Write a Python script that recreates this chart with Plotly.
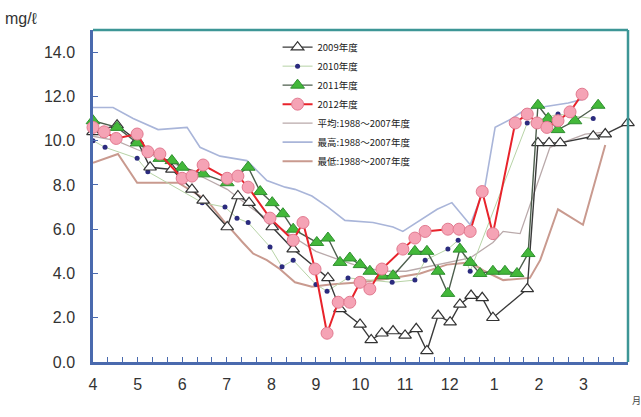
import plotly.graph_objects as go

# x positions are months elapsed since 1 April (0 = 4月, 12 = end of 3月)
month_labels = ["4", "5", "6", "7", "8", "9", "10", "11", "12", "1", "2", "3"]
month_pos = list(range(12))

# 2009年度
x_2009 = [0, 0.54, 0.99, 1.28, 1.77, 2.22, 2.47, 3.01, 3.25, 3.50, 4.02, 4.49, 5.27, 5.54,
          5.99, 6.24, 6.48, 6.73, 7.00, 7.25, 7.49, 7.74, 8.01, 8.23, 8.48, 8.73, 8.97, 9.74,
          9.98, 10.23, 10.48, 11.22, 11.49, 12.0]
y_2009 = [10.4, 10.7, 10.0, 8.8, 8.7, 7.8, 7.3, 6.1, 7.5, 7.2, 6.1, 5.1, 3.8, 2.4,
          1.7, 1.0, 1.3, 1.4, 1.2, 1.5, 0.5, 2.1, 1.8, 2.6, 3.0, 2.9, 2.0, 3.3,
          9.9, 9.9, 9.9, 10.2, 10.3, 10.8]

# 2010年度
x_2010 = [0, 0.27, 0.99, 1.23, 2.45, 2.96, 3.23, 3.48, 3.97, 4.24, 4.49, 5.00, 5.25, 5.72,
          6.71, 7.22, 7.45, 7.96, 8.19, 8.46, 9.74, 10.43, 11.22]
y_2010 = [10.0, 9.7, 9.2, 8.6, 7.2, 7.0, 6.5, 6.3, 5.2, 4.3, 4.6, 3.5, 3.2, 3.8,
          3.6, 3.7, 4.6, 5.1, 5.5, 4.1, 10.8, 11.2, 11.0]

# 2011年度
x_2011 = [0, 0.54, 0.99, 1.50, 1.77, 2.00, 2.47, 3.01, 3.48, 3.75, 4.02, 4.26, 4.49, 5.02,
          5.27, 5.54, 5.76, 5.99, 6.21, 6.48, 6.73, 7.22, 7.49, 7.74, 7.96, 8.23, 8.46, 8.68,
          8.97, 9.24, 9.51, 9.76, 9.98, 10.21, 10.43, 10.81, 11.33]
y_2011 = [10.9, 10.6, 9.9, 9.2, 9.1, 8.8, 8.5, 8.1, 8.8, 7.7, 7.2, 6.7, 6.0, 5.4,
          5.6, 4.5, 4.7, 4.4, 4.1, 3.9, 3.9, 5.0, 5.0, 4.1, 3.1, 5.1, 4.5, 4.0,
          4.1, 4.1, 4.0, 4.9, 11.6, 11.0, 10.5, 10.9, 11.6]

# 2012年度
x_2012 = [0, 0.25, 0.52, 0.99, 1.23, 1.50, 2.00, 2.22, 2.47, 3.01, 3.25, 3.48, 3.97, 4.49,
          4.71, 4.98, 5.25, 5.50, 5.76, 5.99, 6.21, 6.48, 6.95, 7.22, 7.45, 7.96, 8.21, 8.46,
          8.73, 8.97, 9.47, 9.74, 9.96, 10.18, 10.43, 10.70, 10.97]
y_2012 = [10.6, 10.4, 10.1, 10.3, 9.5, 9.4, 8.3, 8.4, 8.9, 8.3, 8.4, 7.9, 6.5, 5.5,
          6.3, 4.2, 1.3, 2.7, 2.7, 3.6, 3.3, 4.2, 5.1, 5.6, 5.9, 6.0, 6.0, 5.9,
          7.7, 5.8, 10.8, 11.2, 10.8, 10.6, 10.9, 11.3, 12.1]

# 1988～2007年度 平均 / 最高 / 最低
x_avg = [0, 0.52, 0.99, 1.50, 2.00, 2.51, 3.01, 3.52, 4.02, 4.53, 5.00, 5.54, 6.01, 6.51,
         7.02, 7.51, 8.03, 8.46, 8.97, 9.20, 9.58, 10.25, 11.04, 11.53]
y_avg = [10.2, 10.0, 9.6, 9.2, 8.8, 8.3, 7.8, 7.0, 6.3, 5.6, 5.0, 4.6, 4.3, 4.1,
         4.1, 4.3, 4.5, 4.7, 5.4, 5.9, 5.8, 9.7, 10.3, 10.4]

x_max = [0, 0.45, 0.90, 1.46, 2.11, 2.40, 2.85, 3.45, 3.90, 4.31, 4.53, 4.91, 5.27, 5.65,
         6.28, 6.73, 6.95, 7.34, 7.72, 8.05, 8.46, 8.79, 9.02, 9.40, 9.69, 10.66, 11.04]
y_max = [11.5, 11.5, 11.0, 10.5, 10.6, 9.7, 9.3, 9.1, 8.2, 7.9, 7.8, 7.5, 7.0, 6.4,
         6.3, 6.1, 5.9, 6.4, 6.9, 7.2, 6.2, 7.9, 10.6, 11.0, 11.4, 11.7, 11.9]

x_min = [0, 0.56, 0.99, 1.91, 2.56, 2.92, 3.36, 3.59, 3.90, 4.19, 4.53, 4.91, 5.32, 6.01,
         6.73, 7.34, 7.94, 8.46, 8.79, 9.20, 9.80, 10.03, 10.43, 10.99, 11.49]
y_min = [9.0, 9.4, 8.1, 8.1, 7.3, 6.4, 5.4, 4.9, 4.6, 4.2, 3.6, 3.4, 3.5, 3.6,
         3.8, 4.0, 4.4, 4.5, 4.1, 3.7, 3.8, 4.6, 6.9, 6.2, 9.8]

y_ticks = [0, 2, 4, 6, 8, 10, 12, 14]

AXIS_BLUE = "#4a6aae"
FRAME_TEAL = "#3d9696"
FONT_JP = "Noto Sans CJK JP"

fig = go.Figure()

# reference envelopes (drawn underneath the yearly series)
fig.add_trace(go.Scatter(x=x_max, y=y_max, mode="lines", name="最高:1988～2007年度",
                         line=dict(color="#a9b5d9", width=1.6), legendrank=6))
fig.add_trace(go.Scatter(x=x_avg, y=y_avg, mode="lines", name="平均:1988～2007年度",
                         line=dict(color="#b9a9aa", width=1.3), legendrank=5))
fig.add_trace(go.Scatter(x=x_min, y=y_min, mode="lines", name="最低:1988～2007年度",
                         line=dict(color="#c99a8f", width=2), legendrank=7))

# yearly series
fig.add_trace(go.Scatter(x=x_2010, y=y_2010, mode="lines+markers", name="2010年度",
                         line=dict(color="#b7d3a6", width=1),
                         marker=dict(symbol="circle", size=5, color="#2b2b7e"),
                         legendrank=2, cliponaxis=False))
fig.add_trace(go.Scatter(x=x_2009, y=y_2009, mode="lines+markers", name="2009年度",
                         line=dict(color="#3a3a3a", width=1.4),
                         marker=dict(symbol="triangle-up", size=11, color="white",
                                     line=dict(color="#333333", width=1.2)),
                         legendrank=1, cliponaxis=False))
fig.add_trace(go.Scatter(x=x_2011, y=y_2011, mode="lines+markers", name="2011年度",
                         line=dict(color="#4d5e4d", width=1.4),
                         marker=dict(symbol="triangle-up", size=12, color="#43b83a",
                                     line=dict(color="#2f8f2f", width=1)),
                         legendrank=3, cliponaxis=False))
fig.add_trace(go.Scatter(x=x_2012, y=y_2012, mode="lines+markers", name="2012年度",
                         line=dict(color="#e8232b", width=2),
                         marker=dict(symbol="circle", size=12, color="#f5a3b5",
                                     line=dict(color="#e27a90", width=1)),
                         legendrank=4, cliponaxis=False))

fig.update_layout(
    width=641, height=417,
    margin=dict(l=93, r=13, t=30, b=55),
    paper_bgcolor="white", plot_bgcolor="white",
    showlegend=True,
    legend=dict(x=0.345, y=0.992, xanchor="left", yanchor="top",
                bgcolor="rgba(255,255,255,0)", borderwidth=0,
                font=dict(family=FONT_JP, size=9.5, color="#222222"),
                tracegroupgap=0, traceorder="normal"),
    xaxis=dict(range=[0, 12], tickmode="array", tickvals=month_pos, ticktext=month_labels,
               ticks="inside", ticklen=5, tickwidth=1.3, tickcolor=AXIS_BLUE,
               minor=dict(ticks="inside", ticklen=5, tickwidth=1.3, tickcolor=AXIS_BLUE,
                          tick0=0, dtick=1 / 3, showgrid=False),
               showline=True, linecolor=AXIS_BLUE, linewidth=2.5,
               showgrid=False, zeroline=False, ticklabelstandoff=6,
               tickfont=dict(family="Liberation Sans", size=16, color="#333333")),
    yaxis=dict(range=[0, 15], tickmode="array", tickvals=y_ticks,
               ticktext=[f"{v:.1f}" for v in y_ticks],
               ticks="inside", ticklen=5, tickwidth=1.3, tickcolor=AXIS_BLUE,
               showline=True, linecolor=AXIS_BLUE, linewidth=2.5,
               showgrid=False, zeroline=False, ticklabelstandoff=12,
               tickfont=dict(family="Liberation Sans", size=16, color="#333333")),
    shapes=[
        dict(type="line", xref="paper", yref="paper", x0=0, x1=1, y0=1, y1=1,
             line=dict(color=FRAME_TEAL, width=2.5)),
        dict(type="line", xref="paper", yref="paper", x0=1, x1=1, y0=0, y1=1,
             line=dict(color=FRAME_TEAL, width=2.5)),
    ],
    annotations=[
        dict(text="mg/ℓ", xref="paper", yref="paper", x=-0.168, y=1.035,
             xanchor="left", yanchor="middle", showarrow=False,
             font=dict(family="Liberation Sans", size=16, color="#333333")),
        dict(text="月", xref="paper", yref="paper", x=1.003, y=-0.115,
             xanchor="left", yanchor="middle", showarrow=False,
             font=dict(family=FONT_JP, size=9, color="#444444")),
    ],
)

fig.write_html("out.html")
